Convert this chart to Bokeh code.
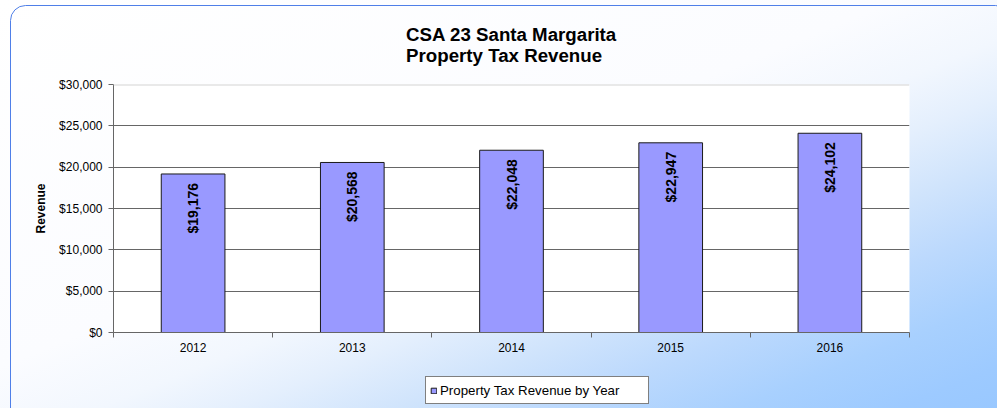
import math
from bokeh.plotting import figure
from bokeh.layouts import column
from bokeh.models import FixedTicker, NumeralTickFormatter, Span, Legend, LegendItem, Range1d
from bokeh.core.properties import value
from bokeh.embed import file_html
from bokeh.resources import INLINE

# ---- data ----
years = ["2012", "2013", "2014", "2015", "2016"]
revenue = [19176, 20568, 22048, 22947, 24102]
y_ticks = [0, 5000, 10000, 15000, 20000, 25000, 30000]
series_name = "Property Tax Revenue by Year"
title_lines = ["CSA 23 Santa Margarita", "Property Tax Revenue"]
y_label = "Revenue"

FONT = "Liberation Sans"
GRID = "#666666"
BAR_FILL = "#9999ff"
BAR_LINE = "#1a1a1a"

xs = list(range(len(years)))
value_labels = [f"${v:,}" for v in revenue]
boundaries = [i - 0.5 for i in range(len(years) + 1)]

BOX_SVG = ("url(\"data:image/svg+xml,%3Csvg xmlns='http://www.w3.org/2000/svg' width='997' height='408'%3E"
           "%3Crect x='10.5' y='5.5' width='1000' height='420' rx='15' ry='15' fill='none' "
           "stroke='%234f7fe8' stroke-width='1'/%3E%3C/svg%3E\")")
GRADIENT = ("linear-gradient(to bottom right, #ffffff 0%, #fbfcff 45%, #f2f7fe 55%, #e4effd 62%, "
            "#d0e4fc 70%, #bcd9fd 78%, #a8d0fe 87%, #9dcaff 95%, #99c8ff 100%)")

p = figure(
    width=997, height=360,
    x_range=(-0.5, len(years) - 0.5), y_range=(y_ticks[0], y_ticks[-1]),
    output_backend="svg", toolbar_location=None,
    title="\n".join(title_lines),
    min_border_left=113, min_border_right=88,
    min_border_top=84, min_border_bottom=28,
)
p.border_fill_color = None
p.background_fill_color = "white"
p.outline_line_color = None

# bars
bars = p.vbar(x=xs, top=revenue, width=0.4, fill_color=BAR_FILL, line_color=BAR_LINE,
              line_width=1)

# value labels inside bars
p.text(x=xs, y=revenue, text=value_labels, angle=math.pi / 2,
       text_align="right", text_baseline="middle", y_offset=9,
       text_font=value(FONT), text_font_style="bold", text_font_size="14px",
       text_color="black")

# top line of plot area
p.add_layout(Span(location=y_ticks[-1], dimension="width", line_color="#d3d3d3", line_width=2))

# x axis
p.xaxis.ticker = FixedTicker(ticks=xs, minor_ticks=boundaries)
p.xaxis.major_label_overrides = {i: y for i, y in enumerate(years)}
p.xaxis.major_tick_line_color = None
p.xaxis.major_tick_in = 0
p.xaxis.major_tick_out = 0
p.xaxis.minor_tick_line_color = GRID
p.xaxis.minor_tick_in = 0
p.xaxis.minor_tick_out = 5
p.xaxis.major_label_standoff = 5
p.xaxis.axis_line_color = GRID
p.xaxis.major_label_text_font = FONT
p.xaxis.major_label_text_font_size = "12px"
p.xaxis.major_label_text_color = "black"

# y axis
p.yaxis.ticker = FixedTicker(ticks=y_ticks)
p.yaxis.formatter = NumeralTickFormatter(format="$0,0")
p.yaxis.major_tick_in = 0
p.yaxis.major_tick_out = 5
p.yaxis.major_tick_line_color = GRID
p.yaxis.minor_tick_line_color = None
p.yaxis.axis_line_color = GRID
p.yaxis.major_label_standoff = 6
p.yaxis.major_label_text_font = FONT
p.yaxis.major_label_text_font_size = "12px"
p.yaxis.major_label_text_color = "black"
p.yaxis.axis_label = y_label
p.yaxis.axis_label_text_font = FONT
p.yaxis.axis_label_text_font_size = "12px"
p.yaxis.axis_label_text_font_style = "bold"
p.yaxis.axis_label_text_color = "black"
p.yaxis.axis_label_standoff = 8

# grid
p.xgrid.visible = False
p.ygrid.ticker = FixedTicker(ticks=y_ticks[1:-1])
p.ygrid.grid_line_color = GRID
p.ygrid.grid_line_width = 1

# two-line title
p.title.align = "center"
p.title.text_font = FONT
p.title.text_font_style = "bold"
p.title.text_font_size = "18.7px"
p.title.text_color = "black"
p.title.text_line_height = 1.0
p.title.standoff = 38

# ---- legend strip below the chart ----
# the series is attached here as a hidden renderer; only its legend entry is drawn
pl = figure(width=997, height=48, output_backend="svg", toolbar_location=None,
            x_axis_type=None, y_axis_type=None, min_border=0,
            x_range=p.x_range, y_range=Range1d(y_ticks[0], y_ticks[-1]))
pl.title.text = ""
pl.border_fill_color = None
pl.background_fill_color = None
pl.outline_line_color = None
pl.grid.visible = False
swatch = pl.vbar(x=xs, top=revenue, width=0.4, fill_color=BAR_FILL, line_color=BAR_LINE,
                 line_width=1)
swatch.visible = False

lg = Legend(items=[LegendItem(label=series_name, renderers=[swatch])])
pl.add_layout(lg)
lg.location = (312, 4)
lg.padding = 4
lg.spacing = 0
lg.margin = 0
lg.glyph_width = 7
lg.glyph_height = 7
lg.label_standoff = 3
lg.label_width = 204
lg.label_height = 18
lg.border_line_color = "black"
lg.border_line_width = 1
lg.background_fill_color = "white"
lg.background_fill_alpha = 1
lg.inactive_fill_alpha = 0
lg.label_text_font = FONT
lg.label_text_font_size = "13.3px"
lg.label_text_color = "black"

layout = column(p, pl, spacing=0, styles={"background": BOX_SVG + ", " + GRADIENT})

open("out.html", "w").write(file_html(layout, INLINE))
